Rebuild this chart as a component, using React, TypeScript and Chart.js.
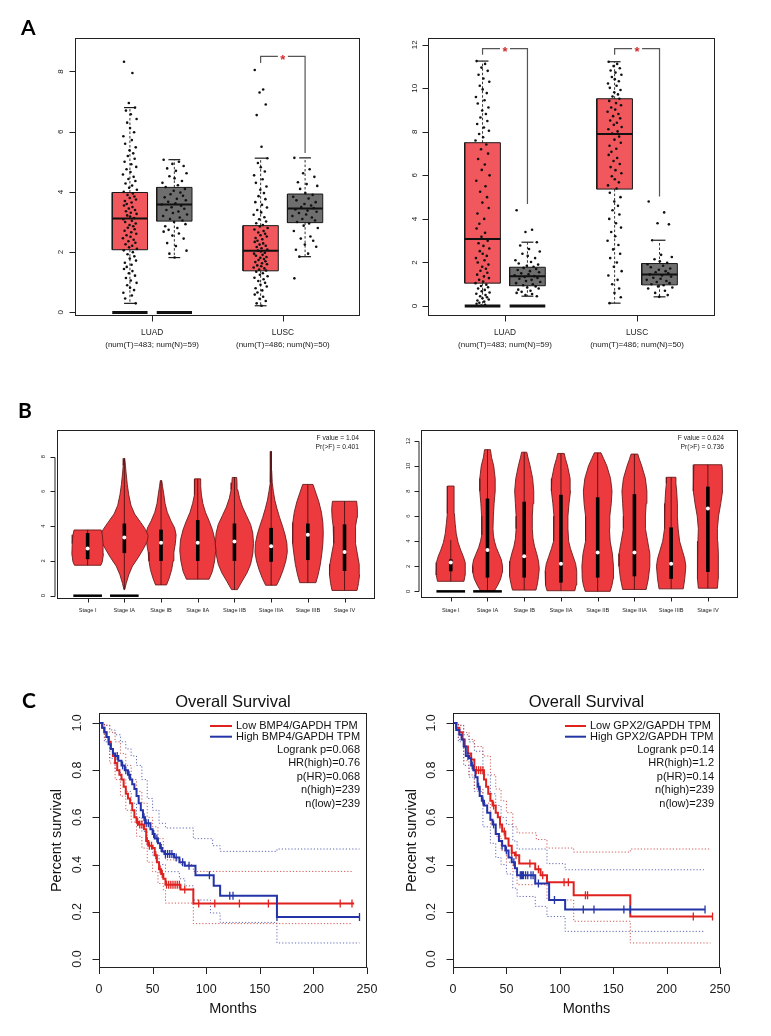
import React, { useEffect, useRef } from "react";
import { Chart, registerables } from "chart.js";
Chart.register(...registerables);

const FONT = "'Liberation Sans', Arimo, Arial, Helvetica, sans-serif";
const LETTER_FONT = "Lato, 'Open Sans', 'Liberation Sans', sans-serif";

// ================= PANEL A DATA =================
const A_GROUPS = ["LUAD", "LUSC"];
const A_COUNTS = ["(num(T)=483; num(N)=59)", "(num(T)=486; num(N)=50)"];
const A1_Y_TICKS = [0, 2, 4, 6, 8];
const A2_Y_TICKS = [0, 2, 4, 6, 8, 10, 12];
// [whisker low, Q1, median, Q3, whisker high]
const A1_TUMOR_BOX = [[0.3, 2.08, 3.12, 3.98, 6.8], [0.22, 1.38, 2.05, 2.88, 5.12]];
const A1_NORMAL_BOX = [[1.82, 3.03, 3.58, 4.15, 5.07], [1.85, 2.98, 3.45, 3.93, 5.13]];
const A2_TUMOR_BOX = [[0, 1.05, 3.08, 7.5, 11.25], [0.13, 5.37, 7.9, 9.52, 11.22]];
const A2_NORMAL_BOX = [[0.45, 0.93, 1.37, 1.78, 2.93], [0.42, 0.97, 1.45, 1.95, 3.02]];
const A_ZERO_BAR = [true, false];
// [group index, bracket top, tumor-side end, normal-side end]
const A1_BRACKETS = [[1, 8.5, 8.28, 5.29]];
const A2_BRACKETS = [[0, 11.82, 11.54, 4.69], [1, 11.82, 11.54, 5.03]];

const A1_LUAD_T = [8.32, 7.95, 6.95, 6.8, 6.7, 6.58, 6.42, 6.3, 6.12, 5.98, 5.85, 5.72, 5.6, 5.48, 5.38, 5.28, 5.19, 5.1, 5.0, 4.92, 4.83, 4.75, 4.66, 4.58, 4.5, 4.43, 4.36, 4.28, 4.21, 4.14, 4.07, 4.0, 3.95, 3.9, 3.85, 3.8, 3.75, 3.7, 3.65, 3.6, 3.55, 3.5, 3.45, 3.4, 3.36, 3.31, 3.27, 3.22, 3.18, 3.13, 3.09, 3.04, 3.0, 2.95, 2.9, 2.86, 2.81, 2.76, 2.71, 2.66, 2.61, 2.56, 2.51, 2.46, 2.41, 2.36, 2.31, 2.26, 2.21, 2.16, 2.11, 2.06, 2.0, 1.93, 1.86, 1.79, 1.72, 1.65, 1.58, 1.51, 1.44, 1.37, 1.3, 1.22, 1.14, 1.06, 0.98, 0.9, 0.82, 0.74, 0.65, 0.56, 0.46, 0.3];
const A1_LUAD_N = [5.07, 5.0, 4.93, 4.86, 4.78, 4.7, 4.62, 4.52, 4.45, 4.36, 4.3, 4.22, 4.16, 4.1, 4.04, 3.98, 3.92, 3.87, 3.82, 3.77, 3.72, 3.67, 3.62, 3.58, 3.54, 3.49, 3.44, 3.4, 3.35, 3.3, 3.25, 3.2, 3.15, 3.1, 3.05, 3.0, 2.93, 2.86, 2.8, 2.74, 2.68, 2.62, 2.55, 2.45, 2.3, 2.2, 2.05, 1.95, 1.82];
const A1_LUSC_T = [8.05, 7.4, 7.3, 6.9, 6.55, 5.5, 5.12, 4.96, 4.82, 4.68, 4.55, 4.42, 4.3, 4.18, 4.07, 3.96, 3.86, 3.76, 3.66, 3.57, 3.48, 3.4, 3.32, 3.24, 3.16, 3.09, 3.02, 2.96, 2.9, 2.85, 2.8, 2.75, 2.7, 2.65, 2.61, 2.56, 2.52, 2.47, 2.43, 2.38, 2.34, 2.29, 2.25, 2.21, 2.17, 2.13, 2.09, 2.05, 2.02, 1.98, 1.95, 1.91, 1.88, 1.84, 1.81, 1.77, 1.74, 1.7, 1.67, 1.63, 1.6, 1.56, 1.53, 1.49, 1.46, 1.42, 1.39, 1.35, 1.3, 1.25, 1.2, 1.15, 1.1, 1.04, 0.98, 0.92, 0.86, 0.8, 0.73, 0.66, 0.59, 0.52, 0.45, 0.38, 0.3, 0.22];
const A1_LUSC_N = [5.13, 4.75, 4.62, 4.5, 4.32, 4.26, 4.2, 4.1, 3.96, 3.9, 3.84, 3.78, 3.72, 3.66, 3.6, 3.55, 3.5, 3.46, 3.42, 3.38, 3.34, 3.3, 3.25, 3.2, 3.15, 3.1, 3.05, 3.0, 2.95, 2.88, 2.8, 2.7, 2.52, 2.45, 2.38, 2.25, 2.18, 2.08, 1.95, 1.85, 1.13];
const A2_LUAD_T = [11.25, 11.12, 10.95, 10.8, 10.62, 10.45, 10.3, 10.12, 9.95, 9.78, 9.6, 9.45, 9.3, 9.12, 8.98, 8.82, 8.66, 8.5, 8.36, 8.2, 8.05, 7.9, 7.75, 7.6, 7.42, 7.2, 7.0, 6.75, 6.5, 6.25, 6.0, 5.75, 5.5, 5.25, 5.0, 4.75, 4.5, 4.25, 4.0, 3.78, 3.56, 3.36, 3.18, 3.0, 2.88, 2.76, 2.64, 2.52, 2.4, 2.3, 2.2, 2.1, 2.0, 1.9, 1.8, 1.71, 1.62, 1.53, 1.44, 1.36, 1.28, 1.2, 1.12, 1.05, 0.98, 0.92, 0.86, 0.8, 0.74, 0.68, 0.62, 0.56, 0.5, 0.45, 0.4, 0.35, 0.3, 0.25, 0.2, 0.15, 0.1, 0.06, 0.02];
const A2_LUAD_N = [4.4, 3.5, 3.4, 2.93, 2.78, 2.62, 2.5, 2.4, 2.3, 2.2, 2.1, 2.02, 1.95, 1.9, 1.85, 1.8, 1.75, 1.7, 1.65, 1.6, 1.55, 1.5, 1.45, 1.41, 1.37, 1.33, 1.29, 1.25, 1.2, 1.15, 1.1, 1.05, 1.0, 0.95, 0.9, 0.85, 0.8, 0.75, 0.7, 0.65, 0.6, 0.55, 0.5, 0.45];
const A2_LUSC_T = [11.22, 11.12, 11.02, 10.92, 10.82, 10.72, 10.62, 10.52, 10.42, 10.32, 10.22, 10.12, 10.02, 9.92, 9.82, 9.72, 9.62, 9.52, 9.42, 9.32, 9.22, 9.12, 9.02, 8.92, 8.82, 8.72, 8.62, 8.52, 8.42, 8.32, 8.22, 8.12, 8.02, 7.92, 7.78, 7.64, 7.5, 7.36, 7.22, 7.08, 6.94, 6.8, 6.66, 6.52, 6.38, 6.24, 6.1, 5.96, 5.82, 5.68, 5.54, 5.4, 5.2, 5.0, 4.8, 4.6, 4.4, 4.2, 4.0, 3.8, 3.6, 3.4, 3.2, 3.0, 2.8, 2.6, 2.4, 2.2, 2.0, 1.8, 1.6, 1.4, 1.2, 1.0, 0.8, 0.6, 0.4, 0.13];
const A2_LUSC_N = [4.8, 4.3, 3.8, 3.75, 3.02, 2.35, 2.25, 2.15, 2.05, 1.98, 1.92, 1.85, 1.78, 1.72, 1.66, 1.6, 1.55, 1.5, 1.45, 1.4, 1.35, 1.3, 1.25, 1.2, 1.15, 1.1, 1.05, 1.0, 0.95, 0.9, 0.85, 0.8, 0.7, 0.6, 0.5, 0.42];
// horizontal jitter (fraction of the cloud half-width)
const JITTER = [-0.82, 0.35, -0.15, 0.71, -0.55, 0.12, 0.93, -0.38, 0.02, 0.58, -0.91, 0.27, -0.66, 0.81, -0.05, 0.46, -0.29, 0.66, -0.74, 0.19, 0.88, -0.47, 0.08, -0.97, 0.52, -0.21, 0.76, -0.61, 0.31, -0.11, 0.97, -0.86, 0.41, -0.33, 0.62, -0.02, 0.85, -0.7, 0.23, -0.44];

// ================= PANEL B DATA =================
const STAGES = ["Stage I", "Stage IA", "Stage IB", "Stage IIA", "Stage IIB", "Stage IIIA", "Stage IIIB", "Stage IV"];
const B1_Y_TICKS = [0, 2, 4, 6, 8];
const B2_Y_TICKS = [0, 2, 4, 6, 8, 10, 12];
const B1_STATS_TEXT = ["F value = 1.04", "Pr(>F) = 0.401"];
const B2_STATS_TEXT = ["F value = 0.624", "Pr(>F) = 0.736"];
// violin outline: [value, half width]
const B1_PROFILES = [
  [[1.75, 0.36], [1.95, 0.4], [2.4, 0.43], [3.0, 0.42], [3.5, 0.4], [3.78, 0.37]],
  [[0.35, 0.01], [0.7, 0.05], [1.2, 0.12], [1.7, 0.22], [2.2, 0.38], [2.7, 0.52], [3.1, 0.62], [3.45, 0.65], [3.8, 0.58], [4.2, 0.45], [4.7, 0.28], [5.2, 0.18], [5.8, 0.12], [6.4, 0.08], [7.0, 0.05], [7.5, 0.03], [7.9, 0.01]],
  [[0.62, 0.15], [1.0, 0.22], [1.5, 0.29], [2.0, 0.33], [2.5, 0.35], [3.0, 0.39], [3.5, 0.41], [3.9, 0.37], [4.3, 0.27], [4.8, 0.17], [5.3, 0.11], [5.9, 0.07], [6.3, 0.04], [6.62, 0.02]],
  [[0.95, 0.31], [1.4, 0.4], [2.0, 0.46], [2.6, 0.49], [3.2, 0.47], [3.8, 0.4], [4.3, 0.31], [4.8, 0.21], [5.3, 0.14], [5.8, 0.1], [6.3, 0.08], [6.72, 0.08]],
  [[0.35, 0.08], [0.8, 0.2], [1.3, 0.34], [1.8, 0.44], [2.4, 0.5], [3.0, 0.52], [3.6, 0.5], [4.1, 0.44], [4.6, 0.33], [5.1, 0.22], [5.6, 0.14], [6.1, 0.09], [6.5, 0.07], [6.8, 0.06]],
  [[0.6, 0.15], [1.0, 0.24], [1.5, 0.33], [2.0, 0.4], [2.5, 0.44], [3.0, 0.43], [3.5, 0.38], [4.0, 0.31], [4.5, 0.23], [5.0, 0.16], [5.5, 0.1], [6.0, 0.06], [6.5, 0.03], [7.2, 0.015], [8.3, 0.01]],
  [[0.75, 0.22], [1.2, 0.28], [1.8, 0.34], [2.4, 0.38], [3.0, 0.41], [3.6, 0.42], [4.2, 0.41], [4.8, 0.37], [5.4, 0.3], [5.9, 0.22], [6.4, 0.14]],
  [[0.3, 0.34], [0.7, 0.38], [1.2, 0.41], [1.8, 0.4], [2.4, 0.35], [3.0, 0.3], [3.5, 0.29], [4.0, 0.31], [4.5, 0.34], [5.0, 0.35], [5.43, 0.33]],
];
// [line low, Q1, median, Q3, line high]
const B1_BOX = [[1.75, 2.1, 2.72, 3.6, 3.78], [0.35, 2.45, 3.35, 4.15, 7.9], [0.62, 2.0, 3.05, 3.8, 6.62], [0.95, 2.0, 3.05, 4.35, 6.72], [0.35, 2.0, 3.12, 4.15, 6.8], [0.6, 1.95, 2.85, 3.9, 8.3], [0.75, 2.05, 3.5, 4.15, 6.4], [0.3, 1.42, 2.52, 4.1, 5.43]];
const B2_PROFILES = [
  [[0.8, 0.36], [1.3, 0.39], [1.8, 0.4], [2.3, 0.39], [2.8, 0.34], [3.3, 0.27], [3.9, 0.2], [4.6, 0.15], [5.4, 0.12], [6.2, 0.1], [7.0, 0.09], [7.8, 0.09], [8.4, 0.09]],
  [[0.0, 0.18], [0.5, 0.28], [1.0, 0.36], [1.5, 0.4], [2.0, 0.41], [2.5, 0.38], [3.0, 0.31], [3.5, 0.24], [4.0, 0.19], [4.5, 0.16], [5.0, 0.15], [6.0, 0.16], [7.0, 0.18], [8.0, 0.21], [9.0, 0.21], [10.0, 0.17], [10.7, 0.11], [11.3, 0.08]],
  [[0.1, 0.32], [0.6, 0.36], [1.2, 0.39], [1.8, 0.41], [2.4, 0.39], [3.0, 0.34], [3.6, 0.28], [4.2, 0.24], [5.0, 0.22], [6.0, 0.22], [7.0, 0.24], [8.0, 0.26], [9.0, 0.23], [10.0, 0.16], [10.7, 0.1], [11.1, 0.07]],
  [[0.05, 0.38], [0.5, 0.41], [1.0, 0.43], [1.6, 0.43], [2.2, 0.4], [2.8, 0.33], [3.4, 0.26], [4.0, 0.21], [5.0, 0.19], [6.0, 0.19], [7.0, 0.22], [8.0, 0.26], [9.0, 0.25], [10.0, 0.18], [10.6, 0.12], [11.0, 0.09]],
  [[0.0, 0.34], [0.5, 0.39], [1.0, 0.42], [2.0, 0.43], [3.0, 0.4], [4.0, 0.34], [5.0, 0.32], [6.0, 0.33], [7.0, 0.37], [8.0, 0.39], [9.0, 0.35], [10.0, 0.25], [10.6, 0.16], [11.05, 0.09]],
  [[0.15, 0.32], [1.0, 0.38], [2.0, 0.42], [3.0, 0.42], [4.0, 0.36], [5.0, 0.3], [6.0, 0.3], [7.0, 0.32], [8.0, 0.34], [9.0, 0.3], [10.0, 0.2], [10.5, 0.14], [10.95, 0.09]],
  [[0.2, 0.33], [1.0, 0.37], [2.0, 0.4], [2.6, 0.37], [3.2, 0.31], [4.0, 0.23], [5.0, 0.19], [6.0, 0.17], [7.0, 0.17], [8.0, 0.15], [8.6, 0.13], [9.1, 0.13]],
  [[0.25, 0.26], [1.0, 0.28], [2.0, 0.29], [3.0, 0.28], [4.0, 0.27], [5.0, 0.26], [6.0, 0.29], [7.0, 0.35], [8.0, 0.4], [9.0, 0.4], [9.7, 0.39], [10.1, 0.38]],
];
const B2_BOX = [[0.8, 1.6, 2.3, 2.55, 4.1], [0, 1.1, 3.3, 7.4, 11.3], [0.1, 1.1, 2.8, 7.15, 11.1], [0.05, 0.7, 2.2, 7.7, 11.0], [0, 1.1, 3.1, 7.5, 11.05], [0.15, 1.2, 3.1, 7.75, 10.95], [0.2, 1.0, 2.2, 5.1, 9.1], [0.25, 1.55, 6.6, 8.35, 10.1]];
const B_ZERO_BAR = [true, true, false, false, false, false, false, false];

// ================= PANEL C DATA =================
const C_Y_TICKS = [0, 0.2, 0.4, 0.6, 0.8, 1.0];
const C_Y_LABELS = ["0.0", "0.2", "0.4", "0.6", "0.8", "1.0"];
const C_X_TICKS = [0, 50, 100, 150, 200, 250];
const C1_LEGEND = ["Low BMP4/GAPDH TPM", "High BMP4/GAPDH TPM"];
const C1_STATS = ["Logrank p=0.068", "HR(high)=0.76", "p(HR)=0.068", "n(high)=239", "n(low)=239"];
const C2_LEGEND = ["Low GPX2/GAPDH TPM", "High GPX2/GAPDH TPM"];
const C2_STATS = ["Logrank p=0.14", "HR(high)=1.2", "p(HR)=0.14", "n(high)=239", "n(low)=239"];

const C1_LOW_T = [0, 3, 5, 7, 9, 11, 13, 15, 17, 19, 21, 23, 25, 27, 29, 31, 33, 35, 37, 42, 44, 46, 50, 52, 54, 56, 58, 60, 62, 76, 88, 238];
const C1_LOW_S = [1, 0.98, 0.96, 0.94, 0.92, 0.89, 0.86, 0.83, 0.8, 0.78, 0.76, 0.73, 0.7, 0.68, 0.66, 0.63, 0.6, 0.58, 0.57, 0.55, 0.5, 0.48, 0.47, 0.44, 0.41, 0.38, 0.36, 0.34, 0.315, 0.295, 0.235, 0.235];
const C1_LOW_CENS = [36, 38, 40, 45, 47, 49, 53, 57, 59, 63, 65, 67, 69, 71, 73, 75, 80, 93, 108, 131, 158, 225, 236];
const C1_HIGH_T = [0, 3, 5, 7, 9, 11, 13, 15, 18, 21, 24, 27, 29, 31, 33, 35, 37, 39, 41, 43, 48, 50, 52, 55, 57, 59, 61, 70, 75, 80, 90, 107, 113, 166, 243];
const C1_HIGH_S = [1, 0.98, 0.96, 0.94, 0.91, 0.89, 0.87, 0.86, 0.84, 0.82, 0.8, 0.78, 0.76, 0.74, 0.72, 0.69, 0.66, 0.63, 0.6, 0.575, 0.55, 0.53, 0.51, 0.49, 0.47, 0.455, 0.445, 0.43, 0.41, 0.395, 0.355, 0.31, 0.268, 0.178, 0.178];
const C1_HIGH_CENS = [17, 22, 25, 28, 42, 44, 46, 51, 54, 58, 62, 64, 66, 68, 72, 78, 84, 103, 122, 125, 166, 243];
const C1_LOW_UP_T = [0, 5, 10, 15, 20, 25, 30, 35, 40, 45, 50, 55, 60, 62, 76, 88, 236];
const C1_LOW_UP_S = [1, 0.99, 0.96, 0.92, 0.87, 0.82, 0.76, 0.71, 0.66, 0.6, 0.56, 0.51, 0.46, 0.42, 0.4, 0.371, 0.371];
const C1_LOW_LO_T = [0, 5, 10, 15, 20, 25, 30, 35, 40, 45, 50, 55, 60, 62, 76, 88, 236];
const C1_LOW_LO_S = [1, 0.93, 0.83, 0.76, 0.69, 0.63, 0.58, 0.52, 0.47, 0.41, 0.37, 0.32, 0.29, 0.237, 0.237, 0.15, 0.15];
const C1_HIGH_UP_T = [0, 5, 10, 15, 20, 25, 30, 35, 40, 45, 50, 56, 62, 88, 106, 113, 166, 243];
const C1_HIGH_UP_S = [1, 0.99, 0.97, 0.95, 0.92, 0.89, 0.86, 0.82, 0.76, 0.68, 0.63, 0.575, 0.555, 0.51, 0.48, 0.456, 0.466, 0.466];
const C1_HIGH_LO_T = [0, 5, 10, 15, 20, 25, 30, 35, 40, 45, 50, 56, 62, 75, 80, 88, 104, 113, 166, 243];
const C1_HIGH_LO_S = [1, 0.92, 0.85, 0.8, 0.76, 0.71, 0.66, 0.6, 0.54, 0.48, 0.44, 0.4, 0.37, 0.34, 0.31, 0.25, 0.195, 0.155, 0.068, 0.068];

const C2_LOW_T = [0, 3, 6, 9, 11, 14, 17, 20, 29, 31, 33, 35, 37, 40, 42, 44, 46, 49, 52, 55, 58, 62, 77, 82, 88, 113, 166, 243];
const C2_LOW_S = [1, 0.98, 0.96, 0.93, 0.9, 0.87, 0.845, 0.8, 0.76, 0.73, 0.7, 0.67, 0.65, 0.62, 0.6, 0.57, 0.54, 0.51, 0.48, 0.45, 0.44, 0.405, 0.38, 0.355, 0.325, 0.27, 0.18, 0.18];
const C2_LOW_CENS = [22, 24, 26, 28, 38, 44, 48, 55, 59, 72, 80, 84, 104, 108, 124, 126, 225, 243];
const C2_HIGH_T = [0, 3, 6, 8, 10, 12, 15, 17, 19, 21, 23, 25, 27, 29, 32, 35, 37, 40, 43, 46, 49, 52, 55, 58, 60, 77, 90, 105, 236];
const C2_HIGH_S = [1, 0.97, 0.95, 0.93, 0.9, 0.86, 0.85, 0.82, 0.8, 0.77, 0.73, 0.69, 0.67, 0.65, 0.62, 0.59, 0.57, 0.53, 0.5, 0.48, 0.46, 0.43, 0.41, 0.385, 0.355, 0.32, 0.25, 0.21, 0.21];
const C2_HIGH_CENS = [14, 18, 24, 28, 38, 46, 50, 57, 63, 64, 65, 66, 68, 70, 73, 75, 80, 95, 122, 132, 160, 166, 236];
const C2_LOW_UP_T = [0, 5, 10, 15, 20, 28, 35, 40, 45, 50, 56, 60, 78, 88, 113, 166, 241];
const C2_LOW_UP_S = [1, 0.99, 0.96, 0.93, 0.9, 0.86, 0.78, 0.72, 0.67, 0.62, 0.56, 0.534, 0.506, 0.47, 0.453, 0.466, 0.466];
const C2_LOW_LO_T = [0, 5, 10, 15, 20, 28, 35, 40, 45, 50, 56, 60, 88, 113, 166, 241];
const C2_LOW_LO_S = [1, 0.93, 0.84, 0.78, 0.72, 0.66, 0.57, 0.52, 0.46, 0.41, 0.37, 0.315, 0.25, 0.16, 0.068, 0.068];
const C2_HIGH_UP_T = [0, 5, 10, 15, 20, 28, 35, 40, 45, 50, 56, 60, 88, 105, 235];
const C2_HIGH_UP_S = [1, 0.99, 0.95, 0.92, 0.88, 0.78, 0.7, 0.65, 0.6, 0.57, 0.5, 0.466, 0.404, 0.378, 0.378];
const C2_HIGH_LO_T = [0, 5, 10, 15, 20, 28, 35, 40, 45, 50, 56, 60, 77, 88, 105, 235];
const C2_HIGH_LO_S = [1, 0.92, 0.82, 0.77, 0.71, 0.56, 0.49, 0.43, 0.4, 0.36, 0.3, 0.265, 0.223, 0.18, 0.117, 0.117];

// ================= STYLE =================
const TUMOR_FILL = "#F0585D";
const NORMAL_FILL = "#6E6E6E";
const BOX_EDGE = "#1a1a1a";
const WHISKER = "#333333";
const VIOLIN_FILL = "#EC3A3E";
const VIOLIN_EDGE = "#6a1c1c";
const KM_RED = "#E0221F";
const KM_BLUE = "#2434A8";
const CI_RED = "rgba(200,60,60,0.85)";
const CI_BLUE = "rgba(70,80,165,0.85)";
const STAR_RED = "#D42A2A";
const A_OFFSET = 0.17;
const A_BOX_W = 0.27;
const A_CAP = 0.045;

// ================= HELPERS =================
function lineDs(data: any[], color: string, width: number, order: number, extra: any = {}) {
  return { data, showLine: true, borderColor: color, borderWidth: width, pointRadius: 0, pointHoverRadius: 0, fill: false, order, ...extra };
}

function pointsDs(c: number, ys: number[], spread: number) {
  return {
    data: ys.map((y, i) => ({ x: c + JITTER[i % JITTER.length] * spread, y })),
    showLine: false, pointRadius: 1.3, pointHoverRadius: 0, pointBackgroundColor: "#111", pointBorderWidth: 0, order: 2,
  };
}

function boxDatasets(c: number, stats: number[], fillColor: string) {
  const [lo, q1, med, q3, hi] = stats;
  const h = A_BOX_W / 2;
  return [
    lineDs([{ x: c, y: q3 }, { x: c, y: hi }], WHISKER, 1, 9, { borderDash: [2.5, 2] }),
    lineDs([{ x: c, y: q1 }, { x: c, y: lo }], WHISKER, 1, 9, { borderDash: [2.5, 2] }),
    lineDs([{ x: c - A_CAP, y: hi }, { x: c + A_CAP, y: hi }], BOX_EDGE, 1.2, 9),
    lineDs([{ x: c - A_CAP, y: lo }, { x: c + A_CAP, y: lo }], BOX_EDGE, 1.2, 9),
    lineDs([{ x: c - h, y: q1 }, { x: c + h, y: q1 }, { x: c + h, y: q3 }, { x: c - h, y: q3 }, { x: c - h, y: q1 }], BOX_EDGE, 1, 8, { fill: "shape", backgroundColor: fillColor }),
    lineDs([{ x: c - h, y: med }, { x: c + h, y: med }], "#111", 2, 7),
  ];
}

function violinDatasets(c: number, profile: number[][], stats: number[], zeroBar: boolean) {
  const right = profile.map(([y, w]) => ({ x: c + w, y }));
  const left = profile.slice().reverse().map(([y, w]) => ({ x: c - w, y }));
  const poly = [...right, ...left, right[0]];
  const [lo, q1, med, q3, hi] = stats;
  const ds: any[] = [
    lineDs(poly, VIOLIN_EDGE, 0.9, 8, { fill: "shape", backgroundColor: VIOLIN_FILL }),
    lineDs([{ x: c, y: lo }, { x: c, y: hi }], "#3a0c0c", 0.8, 7),
    lineDs([{ x: c, y: q1 }, { x: c, y: q3 }], "#000", 3.6, 6),
    { data: [{ x: c, y: med }], showLine: false, pointRadius: 2, pointHoverRadius: 0, pointBackgroundColor: "#fff", pointBorderWidth: 0, order: 5 },
  ];
  if (zeroBar) ds.push(lineDs([{ x: c - 0.39, y: 0 }, { x: c + 0.39, y: 0 }], "#000", 2.5, 4));
  return ds;
}

function survAt(times: number[], surv: number[], t: number) {
  let s = surv[0];
  for (let i = 0; i < times.length; i++) if (times[i] <= t) s = surv[i];
  return s;
}

function rPlugin(cfg: any) {
  return {
    id: "rAxes",
    afterDraw(chart: any) {
      const { ctx, chartArea: a, scales } = chart;
      const xs = scales.x, ys = scales.y;
      ctx.save();
      ctx.strokeStyle = "#222";
      ctx.fillStyle = "#1a1a1a";
      ctx.lineWidth = 1;
      const L = Math.round(a.left), T = Math.round(a.top), R = Math.round(a.right), B = Math.round(a.bottom);
      ctx.strokeRect(L + 0.5, T + 0.5, R - L - 1, B - T - 1);
      // y axis
      const ax = L - cfg.yGap + 0.5;
      const yp = cfg.yTicks.map((v: number) => Math.round(ys.getPixelForValue(v)) + 0.5);
      ctx.beginPath();
      if (cfg.yGap > 0) { ctx.moveTo(ax, yp[0]); ctx.lineTo(ax, yp[yp.length - 1]); }
      yp.forEach((p: number) => { ctx.moveTo(ax, p); ctx.lineTo(ax - cfg.yTickLen, p); });
      // x axis
      const ay = B - 0.5 + cfg.xGap;
      const xp = cfg.xTicks.map((v: number) => Math.round(xs.getPixelForValue(v)) + 0.5);
      if (cfg.xGap > 0) { ctx.moveTo(xp[0], ay); ctx.lineTo(xp[xp.length - 1], ay); }
      xp.forEach((p: number) => { ctx.moveTo(p, ay); ctx.lineTo(p, ay + cfg.xTickLen); });
      ctx.stroke();
      ctx.textAlign = "center";
      ctx.textBaseline = "middle";
      ctx.font = `${cfg.yFont}px ${FONT}`;
      cfg.yTicks.forEach((v: number, i: number) => {
        ctx.save();
        ctx.translate(cfg.yLabelX, ys.getPixelForValue(v));
        ctx.rotate(-Math.PI / 2);
        ctx.fillText(cfg.yLabels[i], 0, 0);
        ctx.restore();
      });
      cfg.xTicks.forEach((v: number, i: number) => {
        const px = xs.getPixelForValue(v);
        cfg.xLabels[i].forEach((line: string, j: number) => {
          ctx.font = `${cfg.xFont[j]}px ${FONT}`;
          ctx.fillText(line, px, cfg.xLabelY[j]);
        });
      });
      if (cfg.letter) {
        ctx.font = `bold 21px ${LETTER_FONT}`;
        ctx.textAlign = "left";
        ctx.textBaseline = "alphabetic";
        ctx.fillStyle = "#000";
        ctx.fillText(cfg.letter[0], cfg.letter[1], cfg.letter[2]);
      }
      if (cfg.extra) cfg.extra(chart, ctx);
      ctx.restore();
    },
  };
}

function baseOptions(pad: any, xMin: number, xMax: number, yMin: number, yMax: number) {
  return {
    responsive: false,
    animation: false,
    devicePixelRatio: 1,
    events: [],
    layout: { padding: pad },
    scales: {
      x: { type: "linear", display: false, min: xMin, max: xMax },
      y: { type: "linear", display: false, min: yMin, max: yMax },
    },
    plugins: { legend: { display: false }, tooltip: { enabled: false } },
    elements: { line: { tension: 0 } },
  };
}

// ================= PANEL BUILDERS =================
function buildA(p: any) {
  const datasets: any[] = [];
  A_GROUPS.forEach((_, g) => {
    const tc = g + 1 - A_OFFSET, nc = g + 1 + A_OFFSET;
    datasets.push(...boxDatasets(tc, p.tumor[g], TUMOR_FILL));
    datasets.push(...boxDatasets(nc, p.normal[g], NORMAL_FILL));
    datasets.push(pointsDs(tc, p.pts[g * 2], 0.055));
    datasets.push(pointsDs(nc, p.pts[g * 2 + 1], 0.1));
    if (A_ZERO_BAR[g]) {
      datasets.push(lineDs([{ x: tc - A_BOX_W / 2, y: 0 }, { x: tc + A_BOX_W / 2, y: 0 }], "#111", 3, 1));
      datasets.push(lineDs([{ x: nc - A_BOX_W / 2, y: 0 }, { x: nc + A_BOX_W / 2, y: 0 }], "#111", 3, 1));
    }
  });
  p.brackets.forEach(([g, top, te, ne]: number[]) => {
    const tc = g + 1 - A_OFFSET, nc = g + 1 + A_OFFSET;
    datasets.push(lineDs([{ x: tc, y: te }, { x: tc, y: top }, { x: nc, y: top }, { x: nc, y: ne }], "#555", 1.2, 1));
  });
  return {
    type: "scatter",
    data: { datasets },
    options: baseOptions(p.pad, p.xMin, p.xMax, p.yMin, p.yMax),
    plugins: [
      rPlugin({
        yTicks: p.yTicks, yLabels: p.yTicks.map(String), yLabelX: p.yLabelX, yFont: 8, yTickLen: 6, yGap: 0,
        xTicks: [1, 2], xLabels: A_GROUPS.map((g, i) => [g, A_COUNTS[i]]), xLabelY: [333, 345], xFont: [8.3, 8], xTickLen: 6, xGap: 0,
        letter: p.letter,
        extra: (chart: any, ctx: CanvasRenderingContext2D) => {
          const xs = chart.scales.x, ys = chart.scales.y;
          p.brackets.forEach(([g, top]: number[]) => {
            const mx = xs.getPixelForValue(g + 1), my = ys.getPixelForValue(top);
            ctx.fillStyle = "#fff";
            ctx.fillRect(mx - 5, my - 3, 10, 6);
            ctx.fillStyle = STAR_RED;
            ctx.font = `bold 13px ${FONT}`;
            ctx.textAlign = "center";
            ctx.textBaseline = "alphabetic";
            ctx.fillText("*", mx, my + 7.5);
          });
        },
      }),
    ],
  };
}

function buildB(p: any) {
  const datasets: any[] = [];
  STAGES.forEach((_, i) => {
    datasets.push(...violinDatasets(i + 1, p.profiles[i], p.box[i], B_ZERO_BAR[i]));
  });
  return {
    type: "scatter",
    data: { datasets },
    options: baseOptions(p.pad, p.xMin, p.xMax, p.yMin, p.yMax),
    plugins: [
      rPlugin({
        yTicks: p.yTicks, yLabels: p.yTicks.map(String), yLabelX: p.yLabelX, yFont: 5.8, yTickLen: 4.5, yGap: 2.5,
        xTicks: STAGES.map((_, i) => i + 1), xLabels: STAGES.map((s) => [s]), xLabelY: [230], xFont: [5.6], xTickLen: 4, xGap: 0,
        letter: p.letter,
        extra: (chart: any, ctx: CanvasRenderingContext2D) => {
          ctx.fillStyle = "#1a1a1a";
          ctx.font = `6.7px ${FONT}`;
          ctx.textAlign = "right";
          ctx.textBaseline = "middle";
          ctx.fillText(p.stats[0], p.statsX, 57.7);
          ctx.fillText(p.stats[1], p.statsX, 67.3);
        },
      }),
    ],
  };
}

function buildC(p: any) {
  const km = (t: number[], s: number[], color: string, width: number, order: number, dash: number[] = []) =>
    lineDs(t.map((x, i) => ({ x, y: s[i] })), color, width, order, { stepped: true, borderDash: dash });
  const cens = (ts: number[], t: number[], s: number[], color: string) => ({
    data: ts.map((x) => ({ x, y: survAt(t, s, x) })),
    showLine: false, pointStyle: "line", pointRotation: 90, pointRadius: 4, pointHoverRadius: 0,
    pointBorderColor: color, pointBorderWidth: 1.3, order: 1,
  });
  const datasets: any[] = [
    km(p.lowUpT, p.lowUpS, CI_RED, 1, 6, [1.2, 2]),
    km(p.lowLoT, p.lowLoS, CI_RED, 1, 6, [1.2, 2]),
    km(p.highUpT, p.highUpS, CI_BLUE, 1, 6, [1.2, 2]),
    km(p.highLoT, p.highLoS, CI_BLUE, 1, 6, [1.2, 2]),
    km(p.lowT, p.lowS, KM_RED, 2, 4),
    km(p.highT, p.highS, KM_BLUE, 2, 3),
    cens(p.lowC, p.lowT, p.lowS, KM_RED),
    cens(p.highC, p.highT, p.highS, KM_BLUE),
  ];
  return {
    type: "scatter",
    data: { datasets },
    options: baseOptions(p.pad, 0, 250, -0.038, 1.042),
    plugins: [
      rPlugin({
        yTicks: C_Y_TICKS, yLabels: C_Y_LABELS, yLabelX: p.yLabelX, yFont: 12.5, yTickLen: 7, yGap: 0,
        xTicks: C_X_TICKS, xLabels: C_X_TICKS.map((v) => [String(v)]), xLabelY: [309.5], xFont: [12.5], xTickLen: 6.5, xGap: 0,
        letter: p.letter,
        extra: (chart: any, ctx: CanvasRenderingContext2D) => {
          const a = chart.chartArea;
          const cx = (a.left + a.right) / 2;
          ctx.fillStyle = "#111";
          ctx.textAlign = "center";
          ctx.textBaseline = "middle";
          ctx.font = `16.5px ${FONT}`;
          ctx.fillText("Overall Survival", cx, 22.7);
          ctx.font = `14.5px ${FONT}`;
          ctx.fillText("Months", cx, 328.5);
          ctx.save();
          ctx.translate(p.yTitleX, (a.top + a.bottom) / 2);
          ctx.rotate(-Math.PI / 2);
          ctx.fillText("Percent survival", 0, 0);
          ctx.restore();
          ctx.lineWidth = 2;
          ctx.strokeStyle = KM_RED;
          ctx.beginPath(); ctx.moveTo(p.legX0, 46); ctx.lineTo(p.legX1, 46); ctx.stroke();
          ctx.strokeStyle = KM_BLUE;
          ctx.beginPath(); ctx.moveTo(p.legX0, 56.7); ctx.lineTo(p.legX1, 56.7); ctx.stroke();
          ctx.font = `11px ${FONT}`;
          ctx.textAlign = "left";
          ctx.fillText(p.legend[0], p.legTextX, 46);
          ctx.fillText(p.legend[1], p.legTextX, 56.7);
          ctx.textAlign = "right";
          p.stats.forEach((s: string, i: number) => ctx.fillText(s, p.statsX, 69.5 + i * 13.5));
        },
      }),
    ],
  };
}

// ================= COMPONENTS =================
function ChartCanvas({ left, top, width, height, build }: any) {
  const ref = useRef<HTMLCanvasElement>(null);
  useEffect(() => {
    const chart = new Chart(ref.current as HTMLCanvasElement, build() as any);
    return () => chart.destroy();
  }, []);
  return (
    <canvas ref={ref} width={width} height={height}
      style={{ position: "absolute", left, top, width, height, display: "block" }} />
  );
}

const buildA1 = () => buildA({
  tumor: A1_TUMOR_BOX, normal: A1_NORMAL_BOX, pts: [A1_LUAD_T, A1_LUAD_N, A1_LUSC_T, A1_LUSC_N],
  brackets: A1_BRACKETS, yTicks: A1_Y_TICKS, pad: { left: 75, top: 38, right: 25, bottom: 44 },
  xMin: 0.41, xMax: 2.59, yMin: -0.12, yMax: 9.11, yLabelX: 61, letter: ["A", 21, 35],
});
const buildA2 = () => buildA({
  tumor: A2_TUMOR_BOX, normal: A2_NORMAL_BOX, pts: [A2_LUAD_T, A2_LUAD_N, A2_LUSC_T, A2_LUSC_N],
  brackets: A2_BRACKETS, yTicks: A2_Y_TICKS, pad: { left: 43, top: 38, right: 56, bottom: 44 },
  xMin: 0.417, xMax: 2.59, yMin: -0.46, yMax: 12.31, yLabelX: 30,
});
const buildB1 = () => buildB({
  profiles: B1_PROFILES, box: B1_BOX, yTicks: B1_Y_TICKS, stats: B1_STATS_TEXT, statsX: 359,
  pad: { left: 57, top: 50, right: 10, bottom: 31 }, xMin: 0.165, xMax: 8.83, yMin: -0.19, yMax: 9.53, yLabelX: 43,
  letter: ["B", 18, 38],
});
const buildB2 = () => buildB({
  profiles: B2_PROFILES, box: B2_BOX, yTicks: B2_Y_TICKS, stats: B2_STATS_TEXT, statsX: 339,
  pad: { left: 36, top: 50, right: 33, bottom: 32 }, xMin: 0.19, xMax: 8.82, yMin: -0.53, yMax: 12.87, yLabelX: 23,
});
const buildC1 = () => buildC({
  lowT: C1_LOW_T, lowS: C1_LOW_S, lowC: C1_LOW_CENS, highT: C1_HIGH_T, highS: C1_HIGH_S, highC: C1_HIGH_CENS,
  lowUpT: C1_LOW_UP_T, lowUpS: C1_LOW_UP_S, lowLoT: C1_LOW_LO_T, lowLoS: C1_LOW_LO_S,
  highUpT: C1_HIGH_UP_T, highUpS: C1_HIGH_UP_S, highLoT: C1_HIGH_LO_T, highLoS: C1_HIGH_LO_S,
  legend: C1_LEGEND, stats: C1_STATS, pad: { left: 99, top: 33, right: 18, bottom: 68 },
  yLabelX: 78, yTitleX: 57, legX0: 210, legX1: 232, legTextX: 236, statsX: 360, letter: ["C", 22, 28],
});
const buildC2 = () => buildC({
  lowT: C2_LOW_T, lowS: C2_LOW_S, lowC: C2_LOW_CENS, highT: C2_HIGH_T, highS: C2_HIGH_S, highC: C2_HIGH_CENS,
  lowUpT: C2_LOW_UP_T, lowUpS: C2_LOW_UP_S, lowLoT: C2_LOW_LO_T, lowLoS: C2_LOW_LO_S,
  highUpT: C2_HIGH_UP_T, highUpS: C2_HIGH_UP_S, highLoT: C2_HIGH_LO_T, highLoS: C2_HIGH_LO_S,
  legend: C2_LEGEND, stats: C2_STATS, pad: { left: 68, top: 33, right: 51, bottom: 68 },
  yLabelX: 47, yTitleX: 27, legX0: 180, legX1: 201, legTextX: 205, statsX: 329,
});

export default function App() {
  return (
    <div style={{ position: "absolute", left: 0, top: 0, width: 771, height: 1036, background: "#fff", overflow: "hidden" }}>
      <ChartCanvas left={0} top={0} width={385} height={360} build={buildA1} />
      <ChartCanvas left={385} top={0} width={386} height={360} build={buildA2} />
      <ChartCanvas left={0} top={380} width={385} height={250} build={buildB1} />
      <ChartCanvas left={385} top={380} width={386} height={250} build={buildB2} />
      <ChartCanvas left={0} top={680} width={385} height={356} build={buildC1} />
      <ChartCanvas left={385} top={680} width={386} height={356} build={buildC2} />
    </div>
  );
}
